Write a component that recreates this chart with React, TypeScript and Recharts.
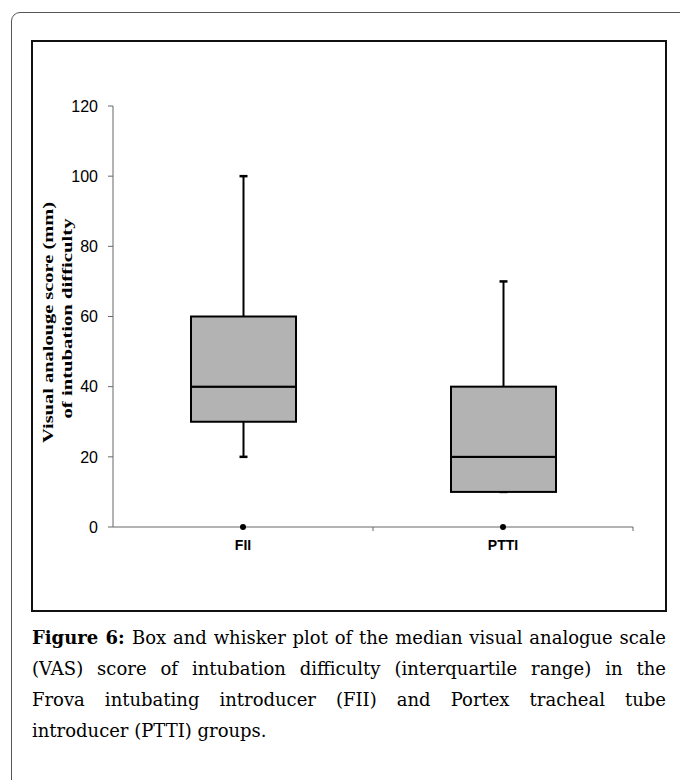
import React from 'react';
import { ComposedChart, Bar, Scatter, XAxis, YAxis } from 'recharts';

// box plot stats (VAS, mm)
const groups = ['FII', 'PTTI'];
const minValues = [20, 10];
const q1Values = [30, 10];
const medianValues = [40, 20];
const q3Values = [60, 40];
const maxValues = [100, 70];
const outlierValues = [0, 0];
const yTicks = [0, 20, 40, 60, 80, 100, 120];

const captionLines = [
  'Box and whisker plot of the median visual analogue scale',
  '(VAS) score of intubation difficulty (interquartile range) in the',
  'Frova intubating introducer (FII) and Portex tracheal tube',
  'introducer (PTTI) groups.',
];

// stacked segments: invisible base, lower whisker, two box halves, upper whisker
const data = groups.map((name, i) => ({
  name,
  base: minValues[i],
  wLow: q1Values[i] - minValues[i],
  boxLow: medianValues[i] - q1Values[i],
  boxHigh: q3Values[i] - medianValues[i],
  wHigh: maxValues[i] - q3Values[i],
  outlier: outlierValues[i],
}));

const BOX_FILL = '#b3b3b3';
const AXIS = '#666';

const BoxRect = (p: any) => {
  if (!p.height && p.height !== 0) return null;
  return <rect x={p.x} y={p.y} width={p.width} height={p.height} fill={BOX_FILL} stroke="#000" strokeWidth={2} />;
};

const Whisker = (p: any, capTop: boolean) => {
  const cx = p.x + p.width / 2;
  const capY = capTop ? p.y : p.y + p.height;
  return (
    <g>
      <line x1={cx} x2={cx} y1={p.y} y2={p.y + p.height} stroke="#000" strokeWidth={2} />
      <line x1={cx - 4} x2={cx + 4} y1={capY} y2={capY} stroke="#000" strokeWidth={2.5} />
    </g>
  );
};

const Dot = (p: any) => <circle cx={p.cx} cy={p.cy} r={3} fill="#000" />;

const CategoryTick = (p: any) => {
  const { x, y, payload } = p;
  const axisY = y - 13;
  const half = payload.offset || (p.width / (p.visibleTicksCount || 1)) / 2;
  return (
    <g>
      <line x1={x + half} x2={x + half} y1={axisY} y2={axisY + 4} stroke={AXIS} strokeWidth={1} />
      <text x={x} y={y} dy="0.71em" textAnchor="middle" fontFamily="'Liberation Sans', Arial, sans-serif" fontWeight="bold" fontSize={14} fill="#000">
        {payload.value}
      </text>
    </g>
  );
};

const YLabel = (p: any) => {
  const vb = p.viewBox;
  const cy = vb.y + vb.height / 2;
  const font = { fontFamily: "'Liberation Serif', 'Times New Roman', serif", fontWeight: 'bold' as const, fontSize: 15, fill: '#000' };
  const x1 = vb.x - 5;
  const x2 = vb.x + 14;
  return (
    <g>
      <text x={x1} y={cy + 6} transform={`rotate(-90, ${x1}, ${cy + 6})`} textAnchor="middle" dominantBaseline="central" textLength={241} lengthAdjust="spacingAndGlyphs" {...font}>
        Visual analouge score (mm)
      </text>
      <text x={x2} y={cy + 2} transform={`rotate(-90, ${x2}, ${cy + 2})`} textAnchor="middle" dominantBaseline="central" textLength={200} lengthAdjust="spacingAndGlyphs" {...font}>
        of intubation difficulty
      </text>
    </g>
  );
};

export default function App() {
  return (
    <div style={{ position: 'absolute', left: 0, top: 0, width: 680, height: 780, overflow: 'hidden', background: '#fff' }}>
      {/* outer page frame, runs off the right and bottom */}
      <div style={{ position: 'absolute', left: 11, top: 12, width: 720, height: 820, border: '1.5px solid #555', borderTopLeftRadius: 9, boxSizing: 'border-box' }} />
      {/* figure frame */}
      <div style={{ position: 'absolute', left: 31, top: 40, width: 636, height: 572, border: '2px solid #111', boxSizing: 'border-box' }} />

      <div style={{ position: 'absolute', left: 0, top: 0 }}>
        <ComposedChart width={680} height={620} data={data} margin={{ top: 106, right: 47, bottom: 63, left: 53 }} barSize={105}>
          <XAxis
            dataKey="name"
            height={30}
            axisLine={{ stroke: AXIS, strokeWidth: 1 }}
            tickLine={false}
            tickSize={6}
            tickMargin={7}
            tick={<CategoryTick />}
            interval={0}
          />
          <YAxis
            domain={[0, 120]}
            ticks={yTicks}
            width={60}
            interval={0}
            axisLine={{ stroke: AXIS, strokeWidth: 1 }}
            tickLine={{ stroke: AXIS, strokeWidth: 1 }}
            tickSize={5}
            tickMargin={10}
            tick={{ fill: '#000', fontSize: 16, fontFamily: "'Liberation Sans', Arial, sans-serif" }}
            label={<YLabel />}
          />
          <Bar dataKey="base" stackId="b" fill="transparent" isAnimationActive={false} />
          <Bar dataKey="wLow" stackId="b" shape={(p: any) => Whisker(p, false)} isAnimationActive={false} />
          <Bar dataKey="boxLow" stackId="b" shape={BoxRect} isAnimationActive={false} />
          <Bar dataKey="boxHigh" stackId="b" shape={BoxRect} isAnimationActive={false} />
          <Bar dataKey="wHigh" stackId="b" shape={(p: any) => Whisker(p, true)} isAnimationActive={false} />
          <Scatter dataKey="outlier" shape={Dot} isAnimationActive={false} />
        </ComposedChart>
      </div>

      <div style={{ position: 'absolute', left: 32, top: 622, width: 634, fontFamily: "'DejaVu Serif', serif", fontSize: 18, lineHeight: '31px', color: '#000' }}>
        {captionLines.map((line, i) => (
          <div key={i} style={{ textAlign: 'justify', textAlignLast: i < 3 ? 'justify' : 'left', whiteSpace: 'nowrap' }}>
            {i === 0 ? <b>Figure 6: </b> : null}
            {line}
          </div>
        ))}
      </div>
    </div>
  );
}
